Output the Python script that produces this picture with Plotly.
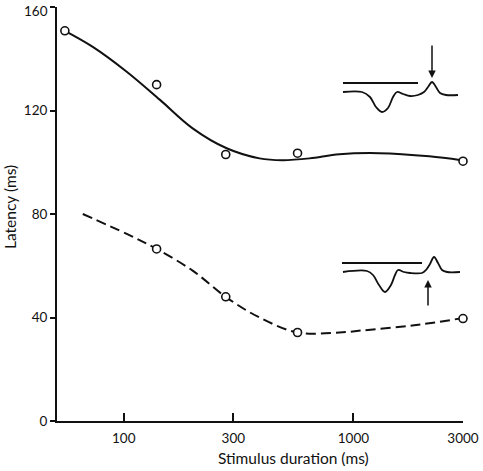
import math
import plotly.graph_objects as go

# ---- data ----
# measured points
solid_pts_x = [55.4, 139, 278, 571, 3000]
solid_pts_y = [150.8, 130, 103, 103.5, 100.4]
dashed_pts_x = [139, 278, 571, 3000]
dashed_pts_y = [66.5, 48, 34.2, 39.6]

# hand-drawn fitted curves
solid_curve_x = [55.4, 73.3, 103, 143.4, 199.5, 280.6, 390, 491, 644, 869, 1297, 2140, 2950]
solid_curve_y = [150.8, 144.6, 135, 124.2, 113.1, 105.4, 101.5, 100.8, 101.5, 103.1, 103.5, 102.3, 100.8]
dashed_curve_x = [66.3, 103, 139, 199.5, 280.6, 390, 571, 869, 1094, 1805, 2917]
dashed_curve_y = [80, 72.3, 66.5, 58.1, 47.7, 40, 34.2, 34.2, 35, 36.9, 39.6]

# tick labels
x_ticks = [100, 300, 1000, 3000]
y_ticks = [0, 40, 80, 120, 160]

# inset waveforms (local units)
inset1_bar_x = [3, 78]
inset1_bar_y = [37, 37]
inset1_wave_x = [3, 22, 30, 36, 42, 48, 53, 57, 63, 70, 78, 84, 88, 92, 96, 100, 106, 118]
inset1_wave_y = [28, 28, 23, 13, 8, 12, 23, 28, 26, 24, 25, 28, 33, 38, 33, 27, 25, 25]
inset2_bar_x = [2, 82]
inset2_bar_y = [52, 52]
inset2_wave_x = [3, 27, 33, 39, 45, 51, 55, 58, 64, 70, 82, 86, 90, 94, 98, 102, 107, 120]
inset2_wave_y = [43, 44, 40, 30, 23, 30, 40, 45, 43, 42, 42, 45, 51, 58, 52, 45, 43, 43]

FONT = "Lato"
INK = "#111111"

fig = go.Figure()

fig.add_trace(go.Scatter(x=solid_curve_x, y=solid_curve_y, mode="lines",
                         line=dict(color=INK, width=2, shape="spline", smoothing=1.0),
                         hoverinfo="skip", showlegend=False, cliponaxis=False))
fig.add_trace(go.Scatter(x=dashed_curve_x, y=dashed_curve_y, mode="lines",
                         line=dict(color=INK, width=2, shape="spline", smoothing=1.0, dash="10px,5px"),
                         hoverinfo="skip", showlegend=False, cliponaxis=False))
marker = dict(symbol="circle", size=8, color="white", line=dict(color=INK, width=1.6))
fig.add_trace(go.Scatter(x=solid_pts_x, y=solid_pts_y, mode="markers", marker=marker,
                         showlegend=False, cliponaxis=False))
fig.add_trace(go.Scatter(x=dashed_pts_x, y=dashed_pts_y, mode="markers", marker=marker,
                         showlegend=False, cliponaxis=False))

# insets
wl = dict(color=INK, width=1.8)
fig.add_trace(go.Scatter(x=inset1_bar_x, y=inset1_bar_y, mode="lines", line=wl,
                         xaxis="x2", yaxis="y2", showlegend=False, hoverinfo="skip"))
fig.add_trace(go.Scatter(x=inset1_wave_x, y=inset1_wave_y, mode="lines",
                         line=dict(color=INK, width=1.8, shape="spline"),
                         xaxis="x2", yaxis="y2", showlegend=False, hoverinfo="skip"))
fig.add_trace(go.Scatter(x=inset2_bar_x, y=inset2_bar_y, mode="lines", line=wl,
                         xaxis="x3", yaxis="y3", showlegend=False, hoverinfo="skip"))
fig.add_trace(go.Scatter(x=inset2_wave_x, y=inset2_wave_y, mode="lines",
                         line=dict(color=INK, width=1.8, shape="spline"),
                         xaxis="x3", yaxis="y3", showlegend=False, hoverinfo="skip"))

W, H = 483, 471
L, R, T, B = 57, 20, 7, 50
pw, ph = W - L - R, H - T - B


def px2paper_x(px):
    return (px - L) / pw


def px2paper_y(py):
    return (H - B - py) / ph


inv = dict(visible=False, showgrid=False, zeroline=False, fixedrange=True)
fig.update_layout(
    width=W, height=H,
    margin=dict(l=L, r=R, t=T, b=B, autoexpand=False),
    paper_bgcolor="white", plot_bgcolor="white",
    font=dict(family=FONT, size=13, color=INK),
    xaxis=dict(type="log", range=[math.log10(51.2), math.log10(3000)],
               tickvals=x_ticks, ticktext=[str(v) for v in x_ticks],
               ticks="inside", ticklen=8, tickwidth=2, tickcolor=INK,
               showline=True, linecolor=INK, linewidth=2, automargin=False,
               showgrid=False, zeroline=False, ticklabelstandoff=4,
               tickfont=dict(size=13.5, family=FONT, color=INK)),
    yaxis=dict(range=[0, 160], tickvals=y_ticks,
               ticks="outside", ticklen=5, tickwidth=2, tickcolor=INK,
               showline=True, linecolor=INK, linewidth=2, automargin=False,
               showgrid=False, zeroline=False,
               tickfont=dict(size=13.5, family=FONT, color=INK)),
    xaxis2=dict(domain=[px2paper_x(340), px2paper_x(460)], range=[0, 120], anchor="y2", **inv),
    yaxis2=dict(domain=[px2paper_y(120), px2paper_y(40)], range=[0, 80], anchor="x2", **inv),
    xaxis3=dict(domain=[px2paper_x(340), px2paper_x(460)], range=[0, 120], anchor="y3", **inv),
    yaxis3=dict(domain=[px2paper_y(315), px2paper_y(245)], range=[0, 70], anchor="x3", **inv),
    shapes=[
        # tick mark for the top value (plotly drops the tick at the page edge)
        dict(type="line", xref="paper", yref="y", x0=-5 / pw, x1=0,
             y0=y_ticks[-1], y1=y_ticks[-1], line=dict(color=INK, width=2)),
    ],
    annotations=[
        dict(text="Stimulus duration (ms)", xref="paper", yref="paper",
             x=px2paper_x(293), y=px2paper_y(458), xanchor="center", yanchor="middle",
             showarrow=False, font=dict(size=15.5, family=FONT, color=INK)),
        dict(text="Latency (ms)", xref="paper", yref="paper", textangle=-90,
             x=px2paper_x(10), y=px2paper_y(207), xanchor="center", yanchor="middle",
             showarrow=False, font=dict(size=15.5, family=FONT, color=INK)),
        dict(text=str(y_ticks[-1]), xref="paper", yref="y", x=0, y=y_ticks[-1],
             xanchor="right", yanchor="top", xshift=-7, yshift=6, showarrow=False,
             font=dict(size=13.5, family=FONT, color=INK)),
        # arrows on the insets
        dict(x=92, y=42, xref="x2", yref="y2", ax=92, ay=76, axref="x2", ayref="y2",
             showarrow=True, arrowhead=2, arrowsize=1, arrowwidth=1.5, arrowcolor=INK, text=""),
        dict(x=88, y=35, xref="x3", yref="y3", ax=88, ay=8, axref="x3", ayref="y3",
             showarrow=True, arrowhead=2, arrowsize=1, arrowwidth=1.5, arrowcolor=INK, text=""),
    ],
)

fig.write_html("out.html")
